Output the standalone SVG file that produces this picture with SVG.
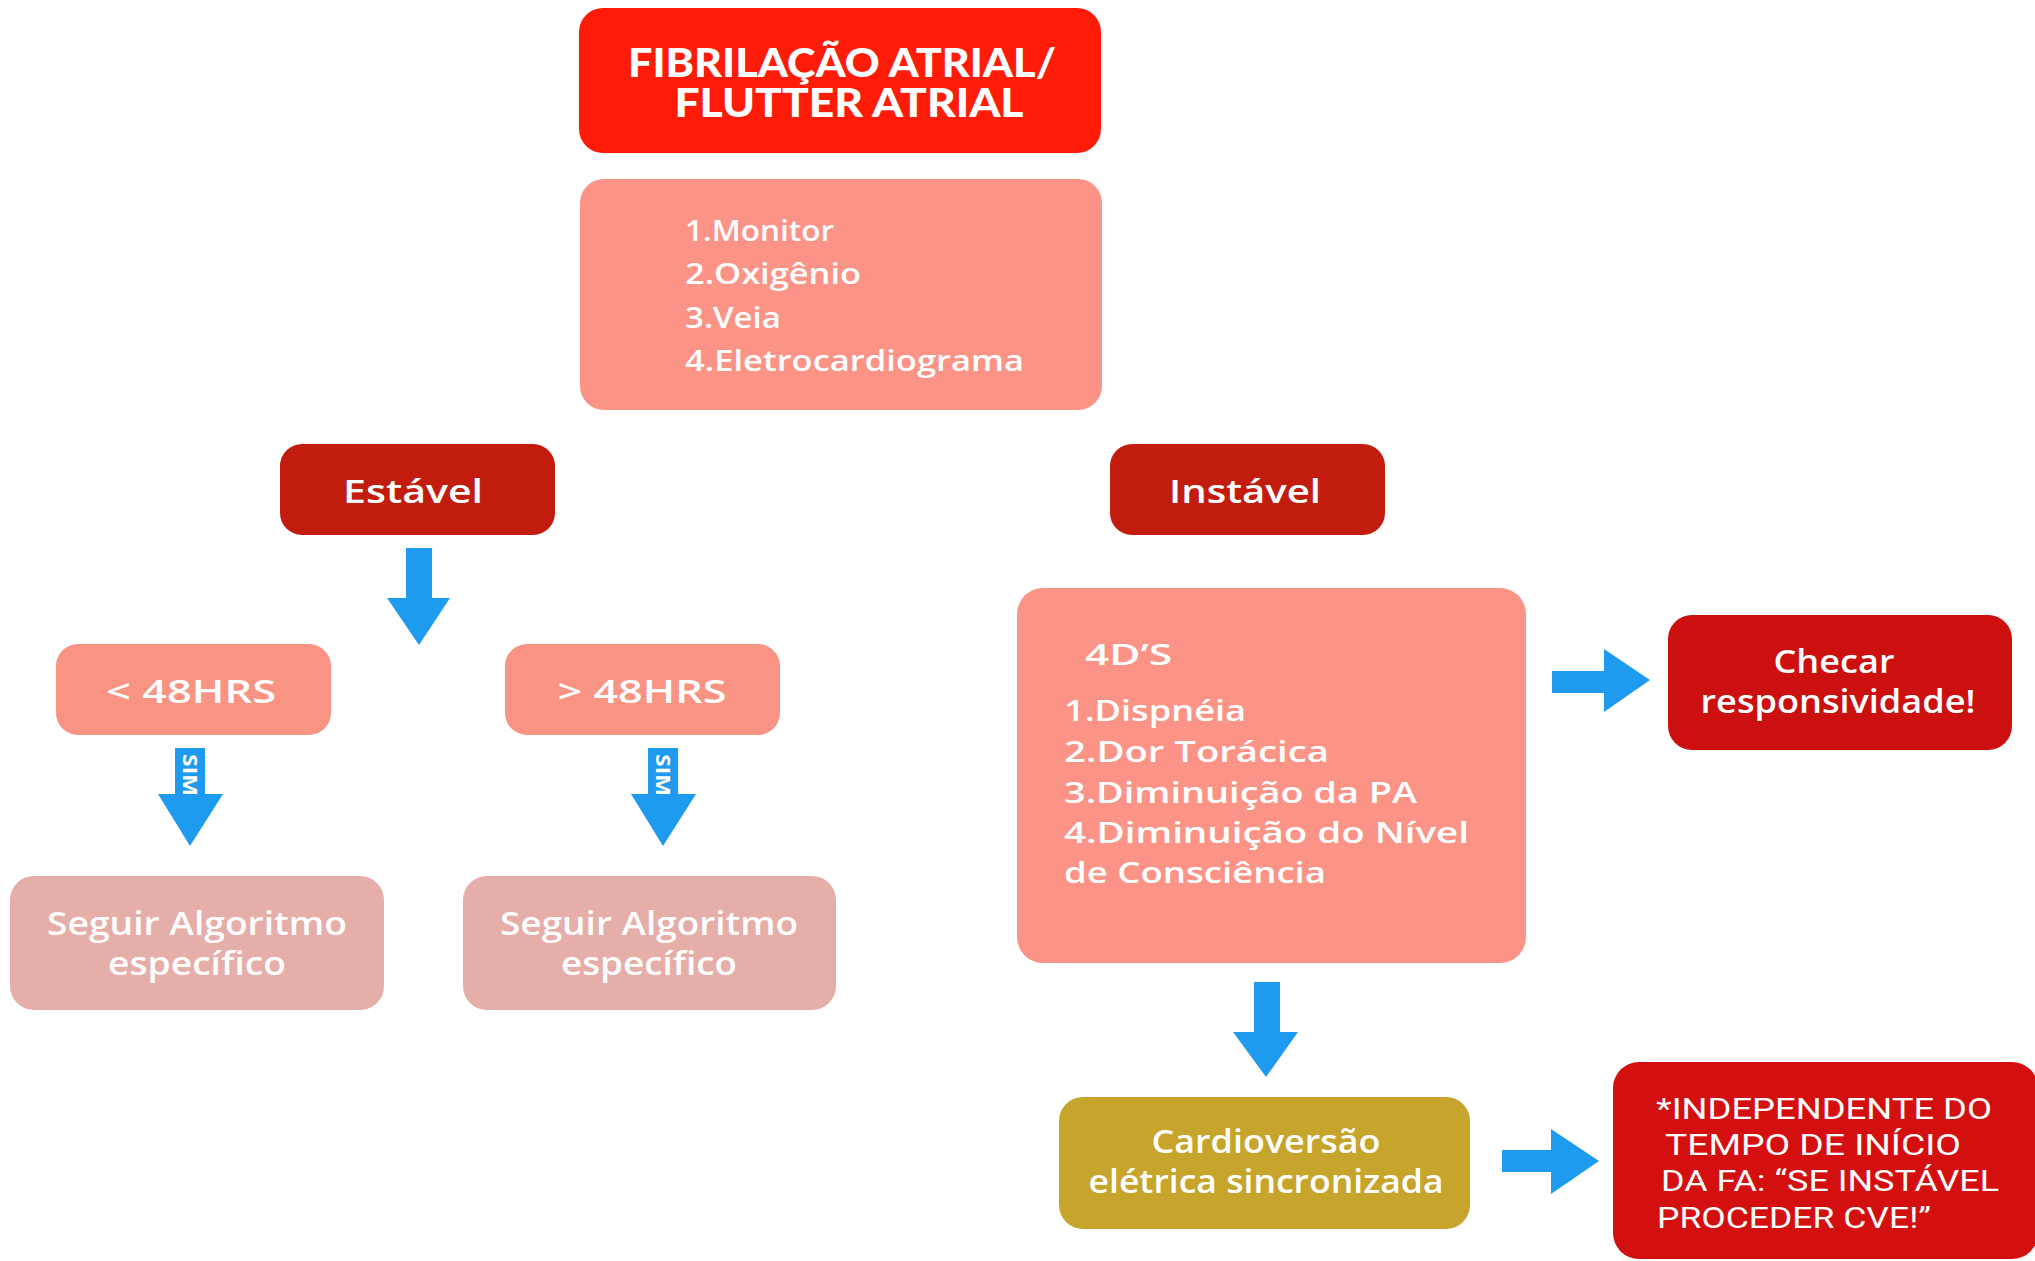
<svg xmlns="http://www.w3.org/2000/svg" width="2035" height="1261" viewBox="0 0 2035 1261">
  <style>
    text { font-family: "Open Sans", "Noto Sans", "Liberation Sans", sans-serif; fill: #ffffff; }
    .title { font-family: "Lato", "Open Sans", sans-serif; font-weight: 900; font-size: 39px; }
    .list { font-weight: 600; font-size: 28px; }
    .lbl { font-weight: 600; font-size: 32px; }
    .note { font-family: "Roboto", "Open Sans", sans-serif; font-weight: 400; font-size: 30px; }
    .sim { font-weight: 700; font-size: 20px; }
    .arrow { fill: #1e9bef; }
  </style>

  <!-- header -->
  <g id="titulo">
    <rect x="579" y="8" width="522" height="145" rx="24" fill="#fe1c08"/>
    <text class="title" x="842" y="77" text-anchor="middle" textLength="428" lengthAdjust="spacingAndGlyphs">FIBRILAÇÃO ATRIAL/</text>
    <text class="title" x="849" y="117" text-anchor="middle" textLength="349" lengthAdjust="spacingAndGlyphs">FLUTTER ATRIAL</text>
  </g>

  <g id="medidas-iniciais">
    <rect x="580" y="179" width="522" height="231" rx="24" fill="#fb9486"/>
    <text class="list" x="685" y="241" textLength="149" lengthAdjust="spacingAndGlyphs">1.Monitor</text>
    <text class="list" x="685" y="284" textLength="176" lengthAdjust="spacingAndGlyphs">2.Oxigênio</text>
    <text class="list" x="685" y="328" textLength="96" lengthAdjust="spacingAndGlyphs">3.Veia</text>
    <text class="list" x="685" y="371" textLength="339" lengthAdjust="spacingAndGlyphs">4.Eletrocardiograma</text>
  </g>

  <!-- stable branch -->
  <g id="estavel">
    <rect x="280" y="444" width="275" height="91" rx="22" fill="#c21c0e"/>
    <text class="lbl" x="413" y="503" text-anchor="middle" textLength="140" lengthAdjust="spacingAndGlyphs">Estável</text>
  </g>

  <g id="menos-48h">
    <rect x="56" y="644" width="275" height="91" rx="22" fill="#f99383"/>
    <text class="lbl" x="191" y="703" text-anchor="middle" textLength="170" lengthAdjust="spacingAndGlyphs">&lt; 48HRS</text>
  </g>

  <g id="mais-48h">
    <rect x="505" y="644" width="275" height="91" rx="22" fill="#f99383"/>
    <text class="lbl" x="642" y="703" text-anchor="middle" textLength="169" lengthAdjust="spacingAndGlyphs">&gt; 48HRS</text>
  </g>

  <g id="algoritmo-1">
    <rect x="10" y="876" width="374" height="134" rx="24" fill="#e5aea8"/>
    <text class="lbl" x="197" y="935" text-anchor="middle" textLength="300" lengthAdjust="spacingAndGlyphs">Seguir Algoritmo</text>
    <text class="lbl" x="197" y="975" text-anchor="middle" textLength="178" lengthAdjust="spacingAndGlyphs">específico</text>
  </g>

  <g id="algoritmo-2">
    <rect x="463" y="876" width="373" height="134" rx="24" fill="#e5aea8"/>
    <text class="lbl" x="649" y="935" text-anchor="middle" textLength="298" lengthAdjust="spacingAndGlyphs">Seguir Algoritmo</text>
    <text class="lbl" x="649" y="975" text-anchor="middle" textLength="176" lengthAdjust="spacingAndGlyphs">específico</text>
  </g>

  <!-- unstable branch -->
  <g id="instavel">
    <rect x="1110" y="444" width="275" height="91" rx="22" fill="#c21c0e"/>
    <text class="lbl" x="1245" y="503" text-anchor="middle" textLength="152" lengthAdjust="spacingAndGlyphs">Instável</text>
  </g>

  <g id="quatro-d">
    <rect x="1017" y="588" width="509" height="375" rx="26" fill="#fb9486"/>
    <text class="list" x="1085" y="665" textLength="87" lengthAdjust="spacingAndGlyphs">4D’S</text>
    <text class="list" x="1064" y="721" textLength="182" lengthAdjust="spacingAndGlyphs">1.Dispnéia</text>
    <text class="list" x="1064" y="762" textLength="265" lengthAdjust="spacingAndGlyphs">2.Dor Torácica</text>
    <text class="list" x="1064" y="803" textLength="353" lengthAdjust="spacingAndGlyphs">3.Diminuição da PA</text>
    <text class="list" x="1064" y="843" textLength="405" lengthAdjust="spacingAndGlyphs">4.Diminuição do Nível</text>
    <text class="list" x="1064" y="883" textLength="262" lengthAdjust="spacingAndGlyphs">de Consciência</text>
  </g>

  <g id="checar">
    <rect x="1668" y="615" width="344" height="135" rx="24" fill="#cc1010"/>
    <text class="lbl" x="1834" y="673" text-anchor="middle" textLength="121" lengthAdjust="spacingAndGlyphs">Checar</text>
    <text class="lbl" x="1838" y="713" text-anchor="middle" textLength="275" lengthAdjust="spacingAndGlyphs">responsividade!</text>
  </g>

  <g id="cardioversao">
    <rect x="1059" y="1097" width="411" height="132" rx="24" fill="#c7a42c"/>
    <text class="lbl" x="1266" y="1153" text-anchor="middle" textLength="229" lengthAdjust="spacingAndGlyphs">Cardioversão</text>
    <text class="lbl" x="1266" y="1193" text-anchor="middle" textLength="355" lengthAdjust="spacingAndGlyphs">elétrica sincronizada</text>
  </g>

  <g id="aviso-cve">
    <rect x="1613" y="1062" width="425" height="197" rx="26" fill="#d40f0f"/>
    <text class="note" x="1656" y="1119" textLength="336" lengthAdjust="spacingAndGlyphs">*INDEPENDENTE DO</text>
    <text class="note" x="1665" y="1155" textLength="296" lengthAdjust="spacingAndGlyphs">TEMPO DE  INÍCIO</text>
    <text class="note" x="1661" y="1191" textLength="338" lengthAdjust="spacingAndGlyphs">DA FA: “SE INSTÁVEL</text>
    <text class="note" x="1657" y="1228" textLength="274" lengthAdjust="spacingAndGlyphs">PROCEDER CVE!”</text>
  </g>

  <!-- block arrows -->
  <g id="conectores">
    <polygon class="arrow" points="406,548 432,548 432,598 450,598 419,645 387,598 406,598"/>
    <polygon class="arrow" points="175,748 205,748 205,794 223,794 190,846 158,794 175,794"/>
    <text class="sim" transform="translate(183,754) rotate(90)" textLength="42" lengthAdjust="spacingAndGlyphs">SIM</text>
    <polygon class="arrow" points="648,748 678,748 678,794 696,794 663,846 631,794 648,794"/>
    <text class="sim" transform="translate(656,754) rotate(90)" textLength="42" lengthAdjust="spacingAndGlyphs">SIM</text>
    <polygon class="arrow" points="1552,671 1604,671 1604,649 1650,680 1604,712 1604,693 1552,693"/>
    <polygon class="arrow" points="1254,982 1280,982 1280,1032 1298,1032 1266,1077 1233,1032 1254,1032"/>
    <polygon class="arrow" points="1502,1150 1551,1150 1551,1129 1599,1161 1551,1194 1551,1172 1502,1172"/>
  </g>
</svg>
